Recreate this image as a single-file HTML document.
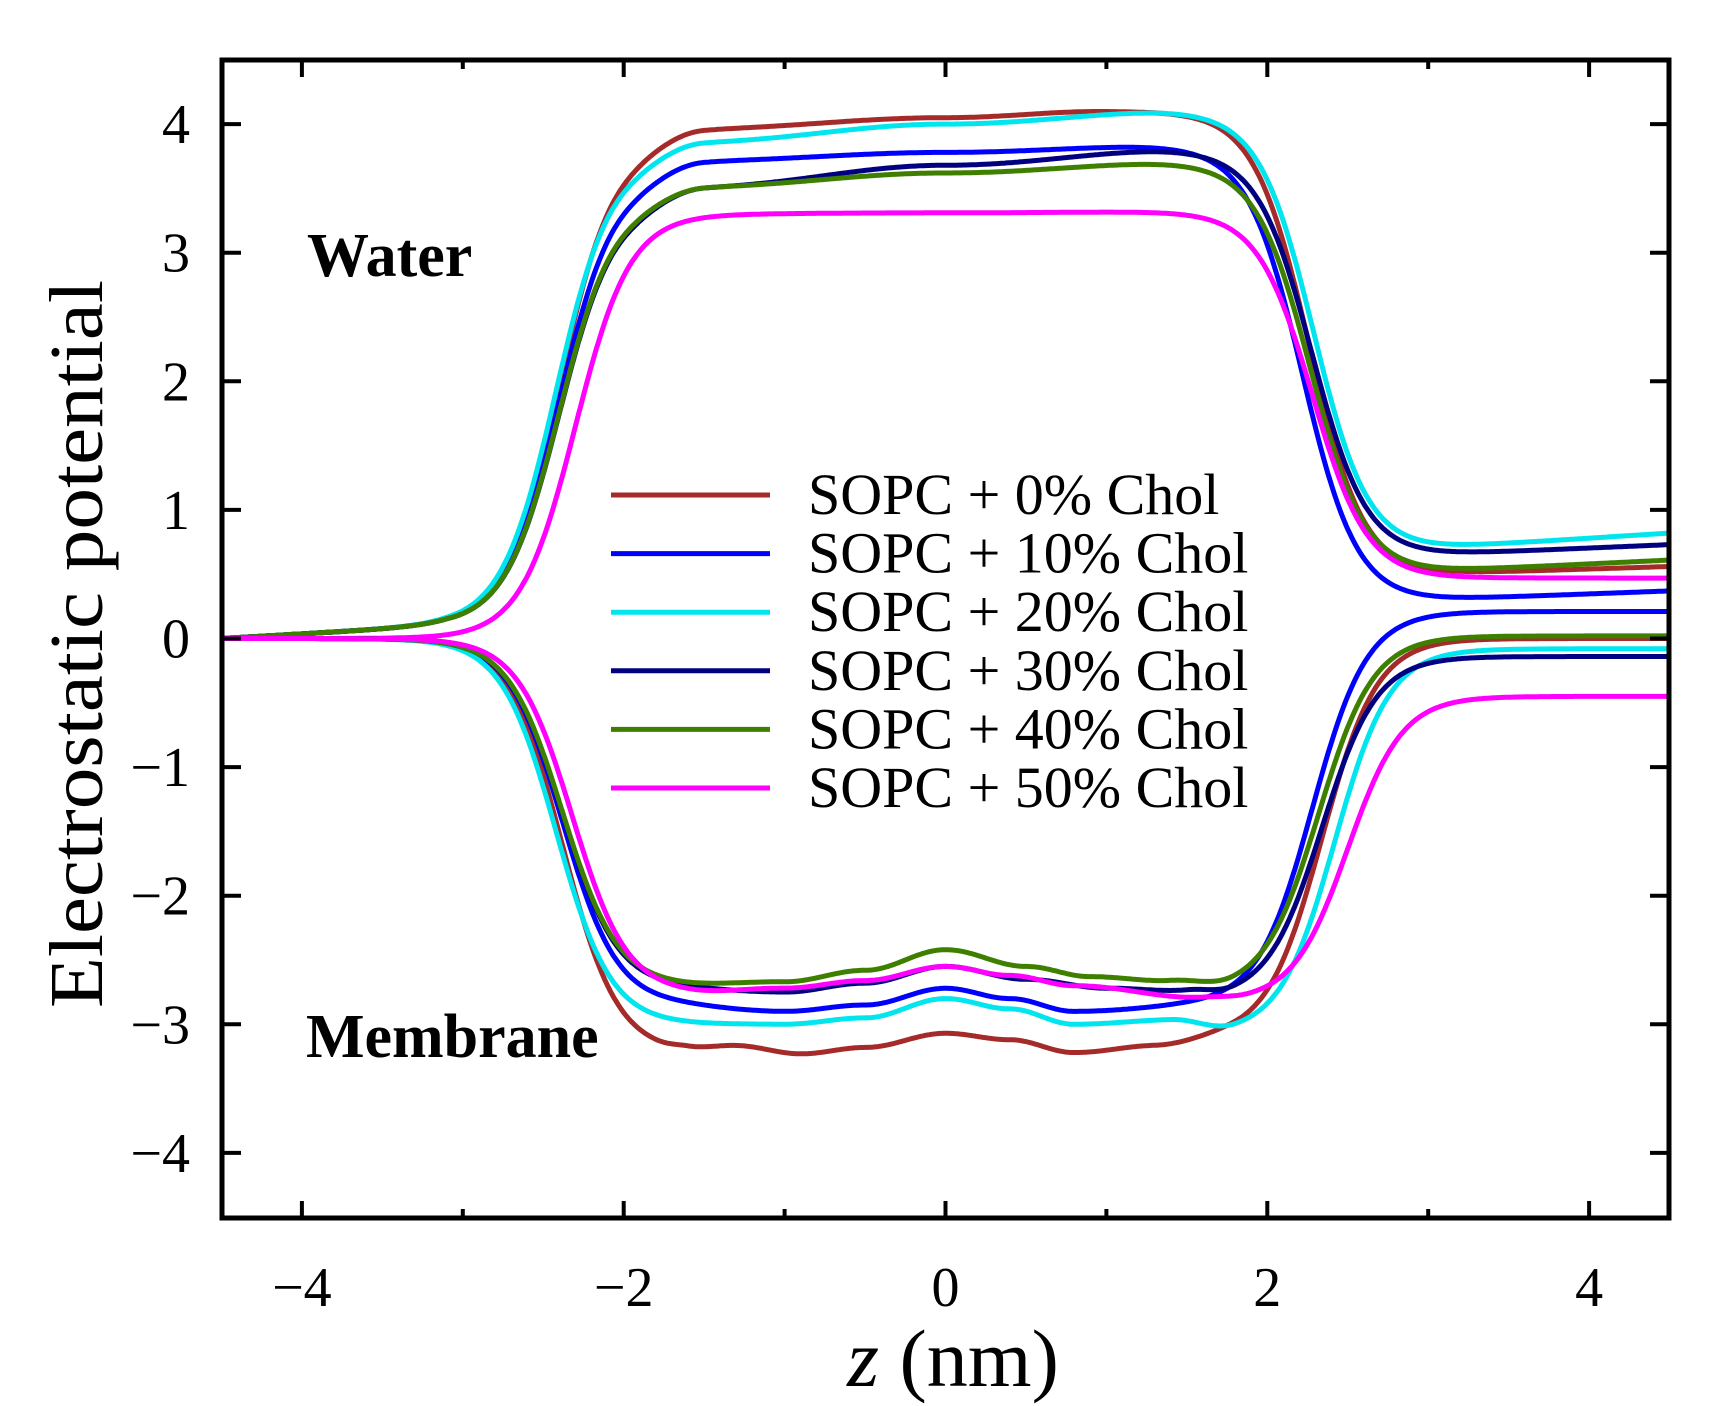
<!DOCTYPE html>
<html><head><meta charset="utf-8"><style>
html,body{margin:0;padding:0;background:#fff}
svg{display:block;font-family:"Liberation Serif",serif}
</style></head><body>
<svg id="s" width="1715" height="1406" viewBox="0 0 1715 1406" xmlns="http://www.w3.org/2000/svg">
<defs><clipPath id="c"><rect x="222" y="60" width="1447" height="1158"/></clipPath></defs>
<g id="curves" clip-path="url(#c)" fill="none" stroke-width="5" stroke-linejoin="round"></g>
<g id="ticks" stroke="#000" stroke-width="4"></g>
<rect x="222" y="60" width="1447" height="1158" fill="none" stroke="#000" stroke-width="5"/>
<g font-size="56" fill="#000" id="labels"></g>
<text x="307" y="276" font-size="62" font-weight="bold">Water</text>
<text x="306" y="1057" font-size="62" font-weight="bold">Membrane</text>
<g font-size="58" id="legend"></g>
<text x="953" y="1386" font-size="82" text-anchor="middle"><tspan font-style="italic">z</tspan> (nm)</text>
<text transform="translate(102,644) rotate(-90)" font-size="76" text-anchor="middle" textLength="728" lengthAdjust="spacingAndGlyphs">Electrostatic potential</text>
</svg>
<script>
var X=function(z){return 945.5+160.9*z},Y=function(v){return 638.5-128.6*v};
var NS="http://www.w3.org/2000/svg";
function el(p,t,a,txt){var e=document.createElementNS(NS,t);for(var k in a)e.setAttribute(k,a[k]);if(txt!=null)e.textContent=txt;p.appendChild(e);return e}
var T=document.getElementById('ticks'),L=document.getElementById('labels');
for(var z=-4;z<=4;z+=2){el(T,'line',{x1:X(z),x2:X(z),y1:60,y2:77});el(T,'line',{x1:X(z),x2:X(z),y1:1218,y2:1201});
 el(L,'text',{x:X(z),y:1306,'text-anchor':'middle'},(z<0?'\u2212':'')+Math.abs(z));}
for(var z=-3;z<=3;z+=2){el(T,'line',{x1:X(z),x2:X(z),y1:60,y2:69});el(T,'line',{x1:X(z),x2:X(z),y1:1218,y2:1209});}
for(var v=-4;v<=4;v++){el(T,'line',{x1:222,x2:241,y1:Y(v),y2:Y(v)});el(T,'line',{x1:1669,x2:1650,y1:Y(v),y2:Y(v)});
 el(L,'text',{x:190,y:Y(v)+19,'text-anchor':'end'},(v<0?'\u2212':'')+Math.abs(v));}
function sig(x){return 1/(1+Math.exp(-x))}
function interp(pts,z){if(z<=pts[0][0])return pts[0][1];for(var i=1;i<pts.length;i++){if(z<=pts[i][0]){var a=pts[i-1],b=pts[i],t=(z-a[0])/(b[0]-a[0]);t=(1-Math.cos(Math.PI*t))/2;return a[1]+(b[1]-a[1])*t}}return pts[pts.length-1][1]}
function curve(col,zl,zr,w,left,plat,right){
 var d='';for(var z=-4.6;z<=4.6;z+=0.01){
  var sl=sig((z-zl)/w),sr=sig((z-zr)/w);
  var lv=left(z),pv=interp(plat,z),rv=right(z);
  var v=lv*(1-sl)+pv*sl*(1-sr)+rv*sr*sl;
  d+=(d?'L':'M')+X(z).toFixed(1)+','+Y(v).toFixed(1);}
 el(document.getElementById('curves'),'path',{d:d,stroke:col});}
function lin(z0,v0,z1,v1){return function(z){return v0+(v1-v0)*(z-z0)/(z1-z0)}}
function leftUp(z){return z<-3.1?0.1*(z+4.5)/1.4:0.1}
function zero(z){return 0}
var C={br:'#a52a2a',bl:'#0000ff',cy:'#00e5ee',nv:'#000080',gr:'#3f7f00',mg:'#ff00ff'};
// upper
curve(C.br,-2.4,2.26,0.17,leftUp,[[-2,3.85],[-1.5,3.97],[0,4.05],[1,4.1],[1.5,4.1]],lin(3,0.5,4.5,0.56));
curve(C.bl,-2.4,2.22,0.17,leftUp,[[-2,3.6],[-1.5,3.72],[0,3.78],[1.4,3.83]],lin(3,0.3,4.5,0.37));
curve(C.cy,-2.42,2.29,0.17,leftUp,[[-2,3.75],[-1.5,3.87],[0,4.0],[1.5,4.1]],lin(3,0.7,4.5,0.82));
curve(C.nv,-2.4,2.28,0.17,leftUp,[[-2,3.4],[-1.5,3.52],[0,3.68],[1.5,3.8]],lin(3,0.65,4.5,0.73));
curve(C.gr,-2.4,2.27,0.17,leftUp,[[-2,3.42],[-1.5,3.52],[0,3.62],[1.5,3.7]],lin(3,0.52,4.5,0.61));
curve(C.mg,-2.3,2.28,0.17,zero,[[-2,3.3],[0,3.31],[1.6,3.32]],lin(3,0.47,4.5,0.47));
// lower
curve(C.br,-2.38,2.34,0.17,zero,[[-1.8,-3.22],[-1.6,-3.2],[-1.3,-3.17],[-0.9,-3.23],[-0.5,-3.18],[0,-3.07],[0.4,-3.12],[0.8,-3.22],[1.3,-3.17],[1.8,-3.1]],function(){return 0});
curve(C.bl,-2.38,2.28,0.17,zero,[[-1.8,-2.85],[-1,-2.9],[-0.5,-2.85],[0,-2.72],[0.4,-2.8],[0.8,-2.9],[1.7,-2.85]],function(){return 0.21});
curve(C.cy,-2.42,2.42,0.17,zero,[[-1.7,-3.0],[-1,-3.0],[-0.5,-2.95],[0,-2.8],[0.4,-2.88],[0.8,-3.0],[1.4,-2.97],[1.8,-3.07]],function(){return -0.08});
curve(C.nv,-2.38,2.34,0.17,zero,[[-1.8,-2.72],[-1,-2.75],[-0.5,-2.68],[0,-2.55],[0.5,-2.65],[1,-2.72],[1.5,-2.75],[1.8,-2.8]],function(){return -0.14});
curve(C.gr,-2.38,2.32,0.17,zero,[[-1.7,-2.7],[-1,-2.67],[-0.5,-2.58],[0,-2.42],[0.5,-2.55],[0.9,-2.63],[1.4,-2.67],[1.8,-2.74]],function(){return 0.02});
curve(C.mg,-2.32,2.5,0.17,zero,[[-1.6,-2.76],[-1,-2.72],[-0.5,-2.66],[0,-2.55],[0.4,-2.62],[0.8,-2.7],[1.6,-2.8],[1.9,-2.82]],function(){return -0.45});
// legend
var G=document.getElementById('legend'),names=['0','10','20','30','40','50'],cols=[C.br,C.bl,C.cy,C.nv,C.gr,C.mg];
for(var i=0;i<6;i++){var y=495+58.6*i;el(G,'line',{x1:611,x2:770,y1:y,y2:y,stroke:cols[i],'stroke-width':5});
 el(G,'text',{x:808,y:y+19},'SOPC + '+names[i]+'% Chol');}
</script>
</body></html>
